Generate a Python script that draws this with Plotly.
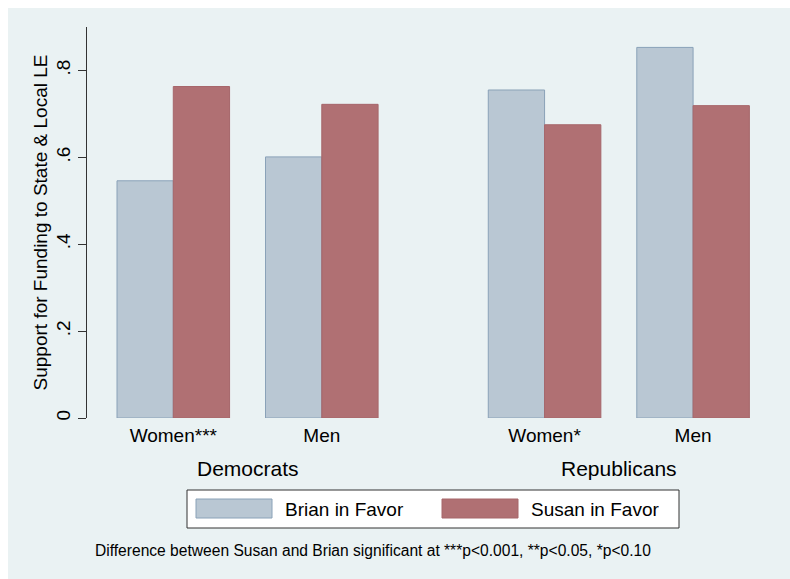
import plotly.graph_objects as go

# Support for funding to state & local law enforcement, by party and gender
groups = ["Democrats", "Republicans"]
tick_labels = ["Women***", "Men", "Women*", "Men"]
positions = [0, 1, 2.5, 3.5]          # categorical slots, wider gap between parties
group_centers = [0.5, 3.0]
brian_favor = [0.546, 0.601, 0.755, 0.853]
susan_favor = [0.763, 0.722, 0.675, 0.719]
y_ticks = [0, 0.2, 0.4, 0.6, 0.8]
y_tick_text = ["0", ".2", ".4", ".6", ".8"]

BG = "#EAF2F3"
BRIAN_FILL = "#B9C7D3"
BRIAN_LINE = "#8AA2B8"
SUSAN_FILL = "#B07073"
SUSAN_LINE = "#A6666A"
FONT = "Liberation Sans, Arial, Helvetica, sans-serif"

fig = go.Figure()
fig.add_trace(go.Bar(
    x=positions, y=brian_favor, name="Brian in Favor",
    marker=dict(color=BRIAN_FILL, line=dict(color=BRIAN_LINE, width=1)),
    showlegend=False,
))
fig.add_trace(go.Bar(
    x=positions, y=susan_favor, name="Susan in Favor",
    marker=dict(color=SUSAN_FILL, line=dict(color=SUSAN_LINE, width=1)),
    showlegend=False,
))

W, H = 790, 579
ml, mr, mt, mb = 87, 9, 27, 161
pw, ph = W - ml - mr, H - mt - mb


def px_x(p):
    return (p - ml) / pw


def px_y(p):
    return (H - mb - p) / ph


shapes = [
    # light graph region background
    dict(type="rect", xref="paper", yref="paper", layer="below",
         x0=px_x(8), x1=px_x(W + 5), y0=px_y(H + 5), y1=px_y(8),
         fillcolor=BG, line=dict(width=0)),
    # legend frame
    dict(type="rect", xref="paper", yref="paper",
         x0=px_x(187), x1=px_x(679), y0=px_y(528), y1=px_y(490),
         fillcolor="white", line=dict(color="#333333", width=1)),
    # legend keys
    dict(type="rect", xref="paper", yref="paper",
         x0=px_x(196), x1=px_x(272), y0=px_y(518), y1=px_y(499),
         fillcolor=BRIAN_FILL, line=dict(color=BRIAN_LINE, width=1)),
    dict(type="rect", xref="paper", yref="paper",
         x0=px_x(442), x1=px_x(518), y0=px_y(518), y1=px_y(499),
         fillcolor=SUSAN_FILL, line=dict(color=SUSAN_LINE, width=1)),
]

annotations = []
for g, c in zip(groups, group_centers):
    annotations.append(dict(
        x=c, xref="x", y=px_y(468), yref="paper", text=g, showarrow=False,
        xanchor="center", yanchor="middle", font=dict(size=21, color="black"),
    ))
annotations += [
    dict(x=px_x(283), xref="paper", y=px_y(509), yref="paper",
         text="Brian in Favor", showarrow=False, xanchor="left", yanchor="middle",
         font=dict(size=19, color="black")),
    dict(x=px_x(529), xref="paper", y=px_y(509), yref="paper",
         text="Susan in Favor", showarrow=False, xanchor="left", yanchor="middle",
         font=dict(size=19, color="black")),
    dict(x=px_x(93), xref="paper", y=px_y(550), yref="paper",
         text="Difference between Susan and Brian significant at ***p<0.001, **p<0.05, *p<0.10",
         showarrow=False, xanchor="left", yanchor="middle",
         font=dict(size=15.6, color="black")),
]

fig.update_layout(
    width=W, height=H,
    margin=dict(l=ml, r=mr, t=mt, b=mb, pad=0),
    paper_bgcolor="white",
    plot_bgcolor="white",
    font=dict(family=FONT, color="black"),
    barmode="group",
    bargap=0.242,
    bargroupgap=0,
    shapes=shapes,
    annotations=annotations,
    xaxis=dict(
        range=[-0.581, 4.092],
        tickvals=positions, ticktext=tick_labels,
        ticks="", showgrid=False, zeroline=False, showline=False,
        tickfont=dict(size=19), ticklabelstandoff=4,
    ),
    yaxis=dict(
        range=[0, 0.9],
        tickvals=y_ticks, ticktext=y_tick_text,
        tickangle=-90, tickfont=dict(size=19),
        ticks="outside", ticklen=8, tickcolor="#333333", tickwidth=1,
        showline=True, linecolor="#333333", linewidth=1,
        showgrid=True, gridcolor=BG, gridwidth=1.5,
        zeroline=False,
        title=dict(text="Support for Funding to State & Local LE",
                   font=dict(size=19), standoff=0),
    ),
)

fig.write_html("out.html")
